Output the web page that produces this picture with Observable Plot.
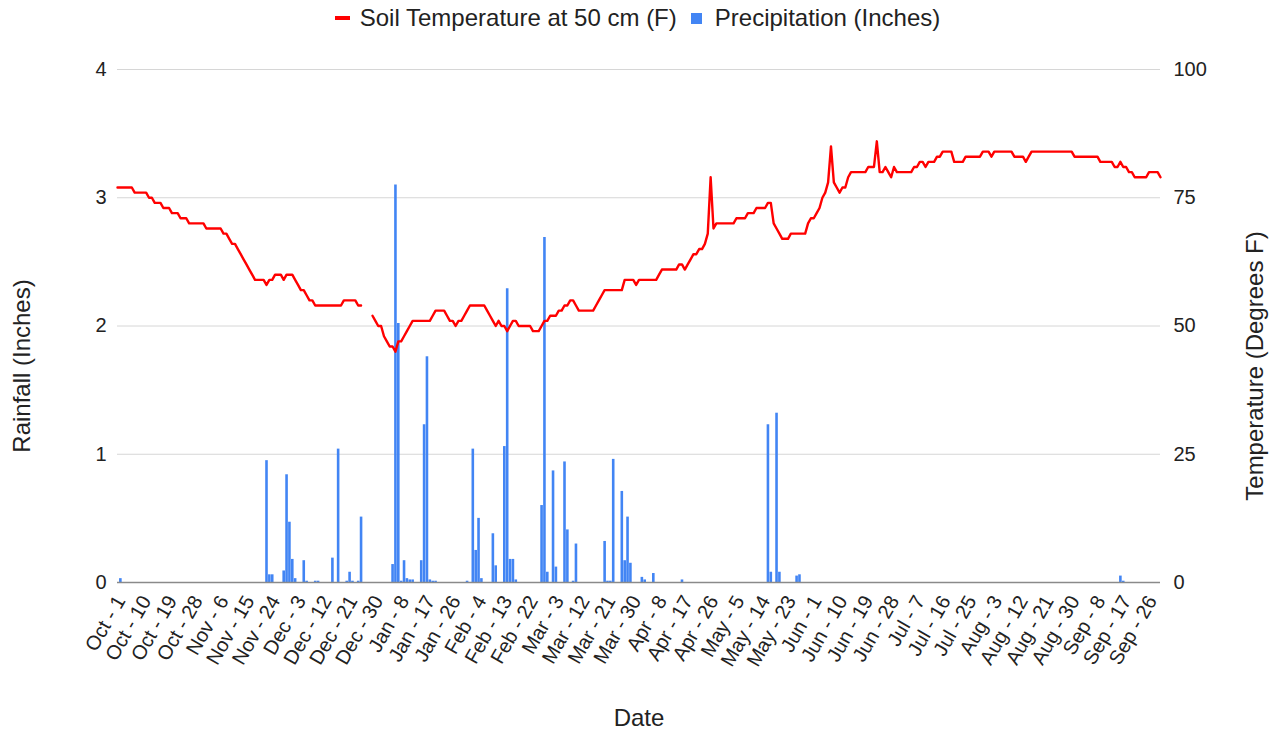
<!DOCTYPE html>
<html>
<head>
<meta charset="utf-8">
<script src="https://cdn.jsdelivr.net/npm/d3@7"></script>
<script src="https://cdn.jsdelivr.net/npm/@observablehq/plot@0.6"></script>
<style>
  html, body { margin: 0; padding: 0; background: #fff; }
  body { font-family: "Liberation Sans", Arial, sans-serif; color: #222; }
  #legend { height: 36px; display: flex; justify-content: center; align-items: center; font-size: 24px; color: #222; padding-left: 4px; }
  .item { display: flex; align-items: center; }
  .swatch-line { width: 15px; height: 4px; background: #ff0000; margin-right: 10px; }
  .swatch-box { width: 11px; height: 11px; background: #4285f4; margin-right: 13px; margin-left: 14px; }
  #chart svg { display: block; }
</style>
</head>
<body>
<div id="legend"></div>
<div id="chart"></div>
<script>
// ---------------- data ----------------
const seriesNames = ["Soil Temperature at 50 cm (F)", "Precipitation (Inches)"];
const startDate = "2021-10-01"; // first day of the water year (one value per day below)

// Daily soil temperature at 50 cm (°F), Oct 1 .. Sep 30 (null = missing)
const temperatureF = [
  77,77,77,77,77,77,76,76,76,76,
  76,75,75,74,74,74,73,73,73,72,
  72,72,71,71,71,70,70,70,70,70,
  70,69,69,69,69,69,69,68,68,67,
  66,66,65,64,63,62,61,60,59,59,
  59,59,58,59,59,60,60,60,59,60,
  60,60,59,58,57,57,56,55,55,54,
  54,54,54,54,54,54,54,54,54,55,
  55,55,55,55,54,54,null,null,null,52,
  51,50,50,48,47,46,46,45,47,47,
  48,49,50,51,51,51,51,51,51,51,
  52,53,53,53,53,52,51,51,50,51,
  51,52,53,54,54,54,54,54,54,53,
  52,51,50,51,50,50,49,50,51,51,
  50,50,50,50,50,49,49,49,50,51,
  51,52,52,52,53,53,54,54,55,55,
  54,53,53,53,53,53,53,54,55,56,
  57,57,57,57,57,57,57,59,59,59,
  59,58,59,59,59,59,59,59,59,60,
  61,61,61,61,61,61,62,62,61,62,
  63,64,64,65,65,66,68,79,69,70,
  70,70,70,70,70,70,71,71,71,71,
  72,72,72,73,73,73,73,74,74,70,
  69,68,67,67,67,68,68,68,68,68,
  68,70,71,71,72,73,75,76,78,85,
  78,77,76,77,77,79,80,80,80,80,
  80,80,81,81,81,86,80,80,81,80,
  79,81,80,80,80,80,80,80,81,81,
  82,82,81,82,82,82,83,83,84,84,
  84,84,82,82,82,82,83,83,83,83,
  83,83,84,84,84,83,84,84,84,84,
  84,84,84,83,83,83,83,82,83,84,
  84,84,84,84,84,84,84,84,84,84,
  84,84,84,84,83,83,83,83,83,83,
  83,83,83,82,82,82,82,82,81,81,
  82,81,81,80,80,79,79,79,79,79,
  80,80,80,80,79
];

// Days with precipitation (all other days are 0)
const precipDates = [
  "2021-10-02","2021-11-22","2021-11-23","2021-11-24","2021-11-28","2021-11-29","2021-11-30",
  "2021-12-01","2021-12-02","2021-12-05","2021-12-06","2021-12-09","2021-12-10","2021-12-15",
  "2021-12-17","2021-12-20","2021-12-21","2021-12-22","2021-12-24","2021-12-25",
  "2022-01-05","2022-01-06","2022-01-07","2022-01-08","2022-01-09","2022-01-10","2022-01-11",
  "2022-01-12","2022-01-15","2022-01-16","2022-01-17","2022-01-18","2022-01-19","2022-01-20",
  "2022-01-31","2022-02-02","2022-02-03","2022-02-04","2022-02-05","2022-02-09","2022-02-10",
  "2022-02-13","2022-02-14","2022-02-15","2022-02-16","2022-02-17","2022-02-26","2022-02-27",
  "2022-02-28","2022-03-02","2022-03-03","2022-03-06","2022-03-07","2022-03-09","2022-03-10",
  "2022-03-20","2022-03-21","2022-03-22","2022-03-23","2022-03-26","2022-03-27","2022-03-28",
  "2022-03-29","2022-04-02","2022-04-03","2022-04-06","2022-04-16","2022-05-16","2022-05-17",
  "2022-05-19","2022-05-20","2022-05-26","2022-05-27","2022-09-16","2022-09-17"
];
const precipInches = [
  0.03,0.95,0.06,0.06,0.09,0.84,0.47,
  0.18,0.03,0.17,0.01,0.01,0.01,0.19,
  1.04,0.01,0.08,0.01,0.01,0.51,
  0.14,3.10,2.02,0.01,0.17,0.03,0.02,
  0.02,0.17,1.23,1.76,0.02,0.01,0.01,
  0.01,1.04,0.25,0.50,0.03,0.38,0.13,
  1.06,2.29,0.18,0.18,0.02,0.60,2.69,
  0.08,0.87,0.12,0.94,0.41,0.01,0.30,
  0.32,0.01,0.01,0.96,0.71,0.17,0.51,
  0.15,0.04,0.02,0.07,0.02,1.23,0.08,
  1.32,0.08,0.05,0.06,0.05,0.01
];

const xTickDates = [
  "2021-10-01","2021-10-10","2021-10-19","2021-10-28","2021-11-06","2021-11-15","2021-11-24",
  "2021-12-03","2021-12-12","2021-12-21","2021-12-30","2022-01-08","2022-01-17","2022-01-26",
  "2022-02-04","2022-02-13","2022-02-22","2022-03-03","2022-03-12","2022-03-21","2022-03-30",
  "2022-04-08","2022-04-17","2022-04-26","2022-05-05","2022-05-14","2022-05-23","2022-06-01",
  "2022-06-10","2022-06-19","2022-06-28","2022-07-07","2022-07-16","2022-07-25","2022-08-03",
  "2022-08-12","2022-08-21","2022-08-30","2022-09-08","2022-09-17","2022-09-26"
];
const xTickLabels = [
  "Oct - 1","Oct - 10","Oct - 19","Oct - 28","Nov - 6","Nov - 15","Nov - 24",
  "Dec - 3","Dec - 12","Dec - 21","Dec - 30","Jan - 8","Jan - 17","Jan - 26",
  "Feb - 4","Feb - 13","Feb - 22","Mar - 3","Mar - 12","Mar - 21","Mar - 30",
  "Apr - 8","Apr - 17","Apr - 26","May - 5","May - 14","May - 23","Jun - 1",
  "Jun - 10","Jun - 19","Jun - 28","Jul - 7","Jul - 16","Jul - 25","Aug - 3",
  "Aug - 12","Aug - 21","Aug - 30","Sep - 8","Sep - 17","Sep - 26"
];
const rainTicks = [0, 1, 2, 3, 4];
const tempTicks = [0, 25, 50, 75, 100];
const axisTitles = {left: "Rainfall (Inches)", right: "Temperature (Degrees F)", bottom: "Date"};
const colors = {temp: "#ff0000", precip: "#4285f4"};

// ---------------- build ----------------
const parse = d3.utcParse("%Y-%m-%d");
const t0 = parse(startDate);
const tempRows = temperatureF.map((v, i) => ({date: d3.utcDay.offset(t0, i), temp: v}));
const precipRows = precipDates.map((d, i) => ({date: parse(d), inches: precipInches[i]}));
const tickDates = xTickDates.map(parse);
const ratio = tempTicks[tempTicks.length - 1] / rainTicks[rainTicks.length - 1]; // 25 °F per inch

// legend
const legend = document.getElementById("legend");
legend.innerHTML =
  `<span class="item"><span class="swatch-line"></span>${seriesNames[0]}</span>` +
  `<span class="item"><span class="swatch-box"></span>${seriesNames[1]}</span>`;

const W = 1271, H = 696;
const chart = Plot.plot({
  width: W,
  height: H,
  marginTop: 33,
  marginBottom: 150,
  marginLeft: 117,
  marginRight: 111,
  style: {fontFamily: '"Liberation Sans", Arial, sans-serif', fontSize: "20px", color: "#222", background: "#fff"},
  x: {type: "utc", domain: [t0, d3.utcDay.offset(t0, temperatureF.length - 1)]},
  y: {domain: [rainTicks[0], rainTicks[rainTicks.length - 1]]},
  marks: [
    Plot.gridY(rainTicks, {stroke: "#d6d6d6", strokeOpacity: 1, strokeWidth: 1}),
    Plot.ruleX(precipRows, {x: "date", y1: 0, y2: "inches", stroke: colors.precip, strokeWidth: 2.6}),
    Plot.ruleY([0], {stroke: "#8a8a8a", strokeWidth: 1.3}),
    Plot.lineY(tempRows, {x: "date", y: d => d.temp == null ? NaN : d.temp / ratio, stroke: colors.temp, strokeWidth: 2.4, curve: "linear"}),
    Plot.axisY(rainTicks, {anchor: "left", tickSize: 0, tickPadding: 11, label: null, fontSize: 20,
      tickFormat: d => String(d)}),
    Plot.axisY(rainTicks, {anchor: "right", tickSize: 0, tickPadding: 13, label: null, fontSize: 20,
      tickFormat: d => String(tempTicks[rainTicks.indexOf(d)])}),
    Plot.axisX(tickDates, {anchor: "bottom", tickSize: 0, tickPadding: 15, dx: 3, label: null, tickRotate: -60, fontSize: 20,
      tickFormat: d => xTickLabels[tickDates.findIndex(t => +t === +d)]}),
    Plot.text([axisTitles.left], {frameAnchor: "left", textAnchor: "middle", rotate: -90, dx: -95, dy: 40, fontSize: 24, fill: "#222"}),
    Plot.text([axisTitles.right], {frameAnchor: "right", textAnchor: "middle", rotate: -90, dx: 95, dy: 40, fontSize: 24, fill: "#222"}),
    Plot.text([axisTitles.bottom], {frameAnchor: "bottom", dy: 143, fontSize: 24, fill: "#222"})
  ]
});
document.getElementById("chart").appendChild(chart);
</script>
</body>
</html>
